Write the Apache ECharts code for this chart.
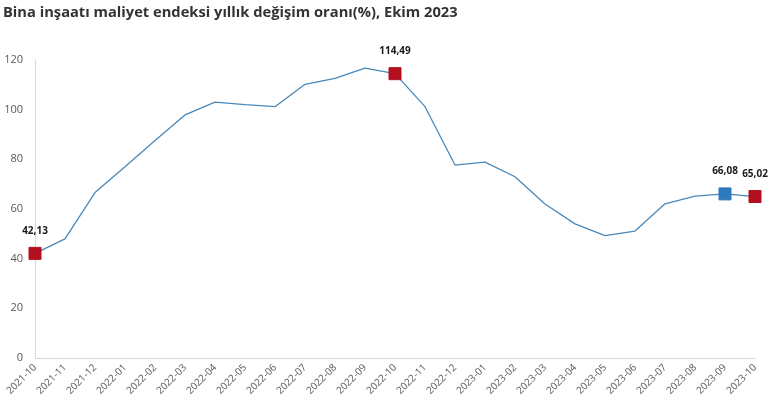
<!DOCTYPE html>
<html>
<head>
<meta charset="utf-8">
<script src="https://cdn.jsdelivr.net/npm/echarts@6/dist/echarts.min.js"></script>
<style>
  html, body { margin: 0; padding: 0; background: #fff; }
  #chart { width: 770px; height: 413px; }
</style>
</head>
<body>
<div id="chart"></div>
<script>
const months = [
  "2021-10", "2021-11", "2021-12", "2022-01", "2022-02", "2022-03", "2022-04",
  "2022-05", "2022-06", "2022-07", "2022-08", "2022-09", "2022-10", "2022-11",
  "2022-12", "2023-01", "2023-02", "2023-03", "2023-04", "2023-05", "2023-06",
  "2023-07", "2023-08", "2023-09", "2023-10"
]
const rates = [
  42.13, 48.0, 66.6, 77.0, 87.6, 97.9, 103.0,
  102.0, 101.2, 110.2, 112.6, 116.7, 114.49, 101.2,
  77.7, 78.9, 73.0, 62.0, 54.0, 49.3, 51.1,
  62.1, 65.2, 66.08, 65.02
]
// highlighted months and their marker colours
const markedMonths = ["2021-10", "2022-10", "2023-09", "2023-10"]
const markedColors = ["#b3101f", "#b3101f", "#2e79bd", "#b3101f"]

const fmt = v => v.toFixed(2).replace(".", ",")

const chart = echarts.init(document.getElementById("chart"))

const seriesData = rates.map((v, i) => {
  const k = markedMonths.indexOf(months[i])
  if (k < 0) return { value: v }
  return {
    value: v,
    symbol: "rect",
    symbolSize: 12,
    itemStyle: { color: markedColors[k], borderColor: markedColors[k] },
    label: {
      show: true,
      position: "top",
      distance: 11,
      formatter: p => fmt(p.value),
      color: "#1a1a1a",
      fontSize: 10,
      fontWeight: "bold",
      fontFamily: "Open Sans"
    }
  }
})

chart.setOption({
  animation: false,
  title: {
    text: "Bina inşaatı maliyet endeksi yıllık değişim oranı(%), Ekim 2023",
    left: -2,
    top: 0,
    textStyle: {
      color: "#333",
      fontSize: 14.7,
      fontWeight: "bold",
      fontFamily: "Open Sans"
    }
  },
  grid: { left: 35, right: 15, top: 60, bottom: 55, containLabel: false },
  xAxis: {
    type: "category",
    boundaryGap: false,
    data: months,
    axisLine: { lineStyle: { color: "#d9d9d9" } },
    axisTick: { show: false },
    axisLabel: {
      rotate: 45,
      interval: 0,
      color: "#595959",
      fontSize: 10,
      margin: 8,
      fontFamily: "Open Sans"
    }
  },
  yAxis: {
    type: "value",
    min: 0,
    max: 120,
    interval: 20,
    axisLine: { show: true, lineStyle: { color: "#d9d9d9" } },
    axisTick: { show: false },
    splitLine: { show: false },
    axisLabel: {
      color: "#595959",
      fontSize: 11,
      margin: 12,
      fontFamily: "Open Sans"
    }
  },
  series: [
    {
      type: "line",
      symbol: "none",
      showAllSymbol: true,
      lineStyle: { color: "#4a88b8", width: 1.3 },
      itemStyle: { color: "#4a88b8" },
      data: seriesData
    }
  ]
})
</script>
</body>
</html>
